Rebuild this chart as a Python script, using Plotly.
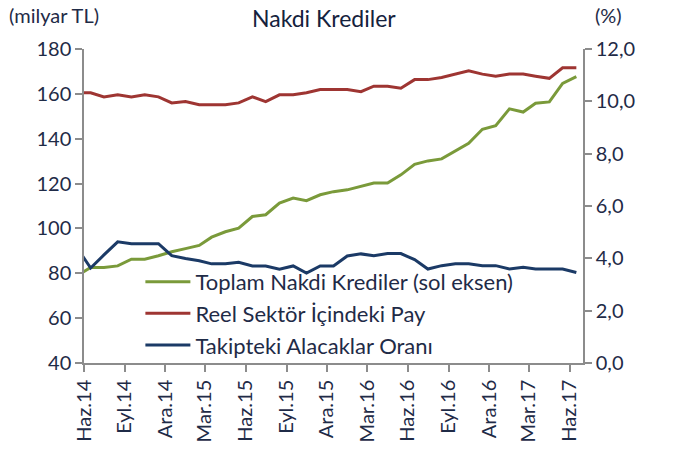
import plotly.graph_objects as go

# month-mid dates (first one is May 2014, partly hidden behind the left axis)
dates = ["2014-05-16", "2014-06-16", "2014-07-16", "2014-08-16", "2014-09-16", "2014-10-16",
         "2014-11-16", "2014-12-16", "2015-01-16", "2015-02-16", "2015-03-16", "2015-04-16",
         "2015-05-16", "2015-06-16", "2015-07-16", "2015-08-16", "2015-09-16", "2015-10-16",
         "2015-11-16", "2015-12-16", "2016-01-16", "2016-02-16", "2016-03-16", "2016-04-16",
         "2016-05-16", "2016-06-16", "2016-07-16", "2016-08-16", "2016-09-16", "2016-10-16",
         "2016-11-16", "2016-12-16", "2017-01-16", "2017-02-16", "2017-03-16", "2017-04-16",
         "2017-05-16", "2017-06-16"]

toplam = [78.9, 82.6, 82.6, 83.3, 86.3, 86.3, 87.8, 89.6, 91.0, 92.4, 96.1, 98.5, 100.1,
          105.3, 106.1, 111.3, 113.5, 112.4, 115.0, 116.4, 117.2, 118.7, 120.2, 120.2, 123.9,
          128.6, 130.1, 131.0, 134.6, 138.0, 144.2, 145.8, 153.3, 151.9, 155.8, 156.4, 164.7, 167.7]

reel_pay = [10.33, 10.33, 10.17, 10.25, 10.17, 10.25, 10.17, 9.94, 9.99, 9.87, 9.87, 9.87, 9.94,
            10.17, 9.99, 10.25, 10.25, 10.33, 10.45, 10.45, 10.45, 10.37, 10.58, 10.58, 10.50,
            10.83, 10.83, 10.91, 11.05, 11.17, 11.04, 10.96, 11.04, 11.04, 10.96, 10.88, 11.28, 11.28]

takip = [4.41, 3.63, 4.13, 4.63, 4.56, 4.56, 4.56, 4.10, 3.99, 3.91, 3.79, 3.79, 3.85, 3.71,
         3.71, 3.58, 3.71, 3.44, 3.71, 3.71, 4.09, 4.17, 4.10, 4.18, 4.18, 3.95, 3.59, 3.72,
         3.79, 3.79, 3.72, 3.72, 3.59, 3.66, 3.59, 3.59, 3.59, 3.46]

tick_dates = ["2014-06-01", "2014-09-01", "2014-12-01", "2015-03-01", "2015-06-01", "2015-09-01",
              "2015-12-01", "2016-03-01", "2016-06-01", "2016-09-01", "2016-12-01", "2017-03-01",
              "2017-06-01"]
tick_text = ["Haz.14", "Eyl.14", "Ara.14", "Mar.15", "Haz.15", "Eyl.15", "Ara.15", "Mar.16",
             "Haz.16", "Eyl.16", "Ara.16", "Mar.17", "Haz.17"]

FONT = "Lato"
TXT = "#1f2b47"
AX = "#8c8c8c"

fig = go.Figure()
fig.add_trace(go.Scatter(x=dates, y=toplam, mode="lines", name="Toplam Nakdi Krediler (sol eksen)",
                         line=dict(color="#7a9a3a", width=3)))
fig.add_trace(go.Scatter(x=dates, y=reel_pay, mode="lines", name="Reel Sektör İçindeki Pay",
                         line=dict(color="#9e3532", width=3), yaxis="y2"))
fig.add_trace(go.Scatter(x=dates, y=takip, mode="lines", name="Takipteki Alacaklar Oranı",
                         line=dict(color="#1b3a66", width=3), yaxis="y2"))

axis_style = dict(showgrid=False, zeroline=False, showline=True, linecolor=AX, linewidth=1.5,
                  ticks="outside", ticklen=7, tickcolor=AX, tickwidth=1.5,
                  tickfont=dict(family=FONT, size=20, color=TXT))

fig.update_layout(
    width=675, height=459,
    margin=dict(l=84, r=92, t=49, b=96),
    paper_bgcolor="white", plot_bgcolor="white",
    separators=",.",
    font=dict(family=FONT, size=20, color=TXT),
    showlegend=True,
    legend=dict(x=0.113, y=0.325, xanchor="left", yanchor="top", bgcolor="rgba(0,0,0,0)",
                font=dict(family=FONT, size=22, color=TXT), itemwidth=45),
    xaxis=dict(type="date", range=["2014-06-01", "2017-07-01"], tickmode="array",
               tickvals=tick_dates, ticktext=tick_text, tickangle=-90, **axis_style),
    yaxis=dict(range=[40, 180], dtick=20, **axis_style),
    yaxis2=dict(range=[0, 12], dtick=2, tickformat=".1f", overlaying="y", side="right",
                **axis_style),
)

fig.add_annotation(text="Nakdi Krediler", xref="paper", yref="paper", x=0.481, y=1.1,
                   xanchor="center", yanchor="middle", showarrow=False,
                   font=dict(family=FONT, size=23, color="#15223d"))
fig.add_annotation(text="(milyar TL)", xref="paper", yref="paper", x=-0.1544, y=1.109,
                   xanchor="left", yanchor="middle", showarrow=False,
                   font=dict(family=FONT, size=20, color=TXT))
fig.add_annotation(text="(%)", xref="paper", yref="paper", x=1.0207, y=1.109,
                   xanchor="left", yanchor="middle", showarrow=False,
                   font=dict(family=FONT, size=20, color=TXT))

# drop the default 8px page margin so the figure fills the window exactly
fig.write_html("out.html", config={"displayModeBar": False},
               post_script="document.body.style.margin='0';")
